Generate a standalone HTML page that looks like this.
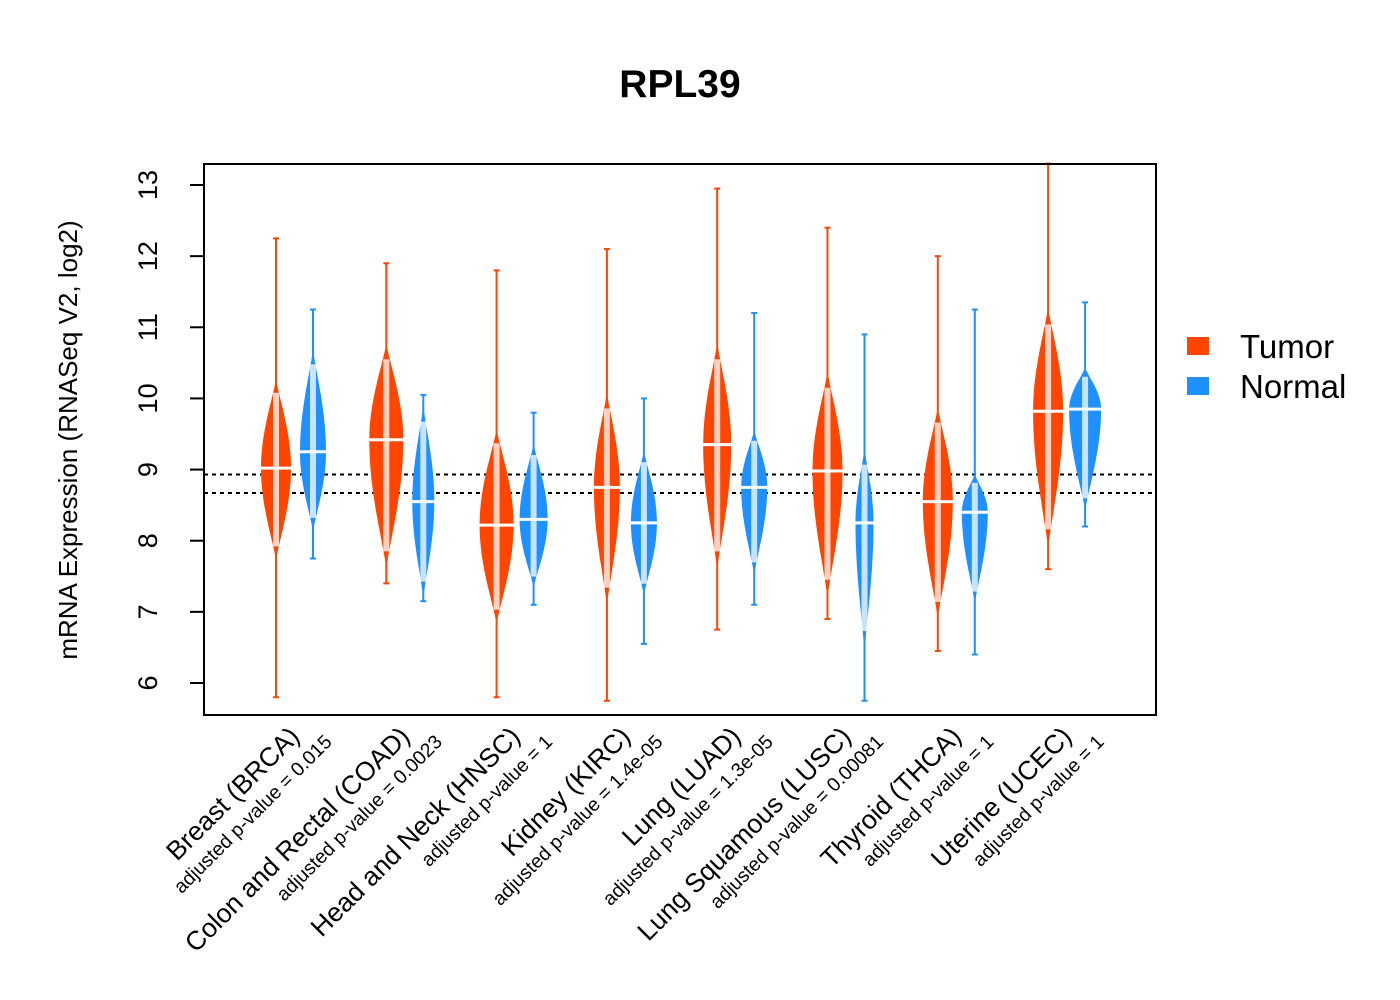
<!DOCTYPE html>
<html><head><meta charset="utf-8"><style>
body{margin:0;background:#fff;}
svg{display:block;font-family:"Liberation Sans",sans-serif;}
</style></head><body>
<svg id="chart" width="1400" height="1000">
<rect width="1400" height="1000" fill="#fff"/>
<text x="680" y="97" font-size="39" font-weight="bold" text-anchor="middle">RPL39</text>
<g id="plot"></g>
<rect x="204" y="164" width="952" height="551" fill="none" stroke="#000" stroke-width="2"/>
<text transform="translate(77,440) rotate(-90)" font-size="26" text-anchor="middle">mRNA Expression (RNASeq V2, log2)</text>
<rect x="1187" y="337" width="22" height="18" fill="#FF4500"/>
<text x="1240" y="358" font-size="33">Tumor</text>
<rect x="1187" y="377" width="22" height="18" fill="#1E90FF"/>
<text x="1240" y="398" font-size="33">Normal</text>
</svg>
<script>
const categories=["Breast (BRCA)","Colon and Rectal (COAD)","Head and Neck (HNSC)","Kidney (KIRC)","Lung (LUAD)","Lung Squamous (LUSC)","Thyroid (THCA)","Uterine (UCEC)"];
const pvalues=["0.015","0.0023","1","1.4e-05","1.3e-05","0.00081","1","1"];
const tumorMin=[5.8,7.4,5.8,5.75,6.75,6.9,6.45,7.6];
const tumorMax=[12.25,11.9,11.8,12.1,12.95,12.4,12.0,13.3];
const tumorLo=[7.8,7.7,6.9,7.2,7.7,7.3,7.0,8.0];
const tumorHi=[10.2,10.7,9.5,10.0,10.7,10.3,9.8,11.2];
const tumorMedian=[9.02,9.42,8.22,8.75,9.35,8.98,8.55,9.82];
const tumorWidth=[14,16,16,12,13,14,14,14];
const normalMin=[7.75,7.15,7.1,6.55,7.1,5.75,6.4,8.2];
const normalMax=[11.25,10.05,9.8,10.0,11.2,10.9,11.25,11.35];
const normalLo=[8.2,7.3,7.4,7.3,7.6,6.6,7.2,8.5];
const normalHi=[10.6,9.8,9.3,9.2,9.5,9.2,8.9,10.4];
const normalMedian=[9.25,8.55,8.3,8.25,8.75,8.25,8.4,9.85];
const normalWidth=[12,10,13,12,12,8,12,15];
const yTicks=[6,7,8,9,10,11,12,13];
const refLines=[8.93,8.67];

const NS="http://www.w3.org/2000/svg";
const svg=document.getElementById('chart'), plot=document.getElementById('plot');
const yS=v=>683-(v-6)*(683-185)/7;
const xT=i=>276+i*110.3;
function mk(t,a,p){const e=document.createElementNS(NS,t);for(const k in a)e.setAttribute(k,a[k]);(p||plot).appendChild(e);return e;}

refLines.forEach(v=>{
 const l=mk('line',{x1:204,x2:1156,y1:yS(v),y2:yS(v),stroke:'#000','stroke-width':2,'stroke-dasharray':'4,4'});
 
 
});

function violin(x,mn,mx,lo,hi,med,hw,col,name){
 const g=mk('g',{});
 
 
 mk('line',{x1:x,x2:x,y1:yS(mn),y2:yS(mx),stroke:col,'stroke-width':2},g);
 const N=40;let r=[],l=[];
 for(let k=0;k<=N;k++){
  const v=lo+(hi-lo)*k/N;
  const t=v<med?(v-lo)/(med-lo):(hi-v)/(hi-med);
  const w=hw*Math.pow(Math.sin(Math.max(0,t)*Math.PI/2),1.1)+1;
  r.push([x+w,yS(v)]);l.push([x-w,yS(v)]);
 }
 const pts=r.concat(l.reverse()).map(p=>p[0].toFixed(1)+','+p[1].toFixed(1)).join(' ');
 mk('polygon',{points:pts,fill:col},g);
 mk('rect',{x:x-3,y:yS(hi-(hi-lo)*0.05),width:6,height:yS(lo+(hi-lo)*0.05)-yS(hi-(hi-lo)*0.05),fill:'#fff',opacity:0.75},g);
 [mn,mx].forEach(v=>mk('line',{x1:x-3,x2:x+3,y1:yS(v),y2:yS(v),stroke:col,'stroke-width':2},g));
 mk('line',{x1:x-hw-2,x2:x+hw+2,y1:yS(med),y2:yS(med),stroke:'#fff','stroke-width':3},g);
}
categories.forEach((c,i)=>{
 violin(xT(i),tumorMin[i],tumorMax[i],tumorLo[i],tumorHi[i],tumorMedian[i],tumorWidth[i],'#FF4500','violin-tumor');
 violin(xT(i)+37,normalMin[i],normalMax[i],normalLo[i],normalHi[i],normalMedian[i],normalWidth[i],'#1E90FF','violin-normal');
 const ax=xT(i)+25, px=xT(i)+57;
 const t1=mk('text',{transform:`translate(${ax},738) rotate(-45)`,'text-anchor':'end','font-size':26.5},svg);
 t1.textContent=c;
 
 
 const t2=mk('text',{transform:`translate(${px},743) rotate(-45)`,'text-anchor':'end','font-size':19.5},svg);
 t2.textContent='adjusted p-value = '+pvalues[i];
 
 
});
yTicks.forEach(v=>{
 const tk=mk('line',{x1:190,x2:204,y1:yS(v),y2:yS(v),stroke:'#000','stroke-width':2},svg);
 
 
 const t=mk('text',{transform:`translate(157,${yS(v)}) rotate(-90)`,'text-anchor':'middle','font-size':27},svg);
 t.textContent=v;
 
 
});
mk('line',{x1:204,x2:204,y1:yS(6),y2:yS(13),stroke:'#000','stroke-width':2},svg);
</script>
</body></html>
